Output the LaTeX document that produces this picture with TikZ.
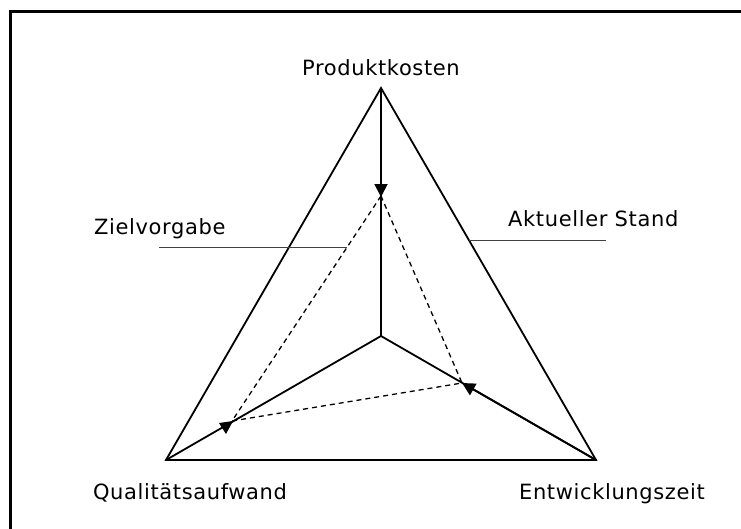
\documentclass[tikz,border=0pt]{standalone}
\usepackage{fontspec}
\setmainfont[LetterSpace=3]{DejaVu Sans}
\usetikzlibrary{arrows.meta,calc}
\begin{document}
\begin{tikzpicture}[x=1pt,y=-1pt,
  frame/.style={line width=3pt},
  axis/.style={line width=1.8pt},
  target/.style={line width=1.3pt,dash pattern=on 5pt off 4pt},
  leader/.style={line width=1pt,black!75},
  tip/.style={-{Triangle[length=13pt,width=13pt]}},
  label/.style={inner sep=0pt,font=\fontsize{21}{25}\selectfont}]
  \useasboundingbox (0,0) rectangle (741,528);
  % outer frame (runs past the page at right and bottom)
  \draw[frame] (10.5,11) rectangle (760,545);
  % corners of the triangle and its centre
  \coordinate (P) at (381,88);
  \coordinate (Q) at (166,460);
  \coordinate (E) at (596,460);
  \coordinate (M) at (381,336);
  % target points on the three axes
  \coordinate (tP) at (381,196);
  \coordinate (tQ) at (232,421);
  \coordinate (tE) at (462,383);
  % current state: triangle and axes
  \draw[axis,line join=miter] (P) -- (Q) -- (E) -- cycle;
  \draw[axis] (M) -- (P);
  \draw[axis] (M) -- (Q);
  \draw[axis] (M) -- (E);
  % arrows towards the targets
  \draw[axis,tip,shorten >=-1pt] (P) -- (tP);
  \fill (tQ) ++(-13,2) -- ++(14,-2) -- ++(-7,13) -- cycle;
  \draw[axis,tip] (E) -- (tE);
  % target triangle
  \draw[target] (tP) -- (tQ) -- (tE) -- cycle;
  % labels
  \node[label,anchor=base] (lp) at (381,75) {Produktkosten};
  \node[label,anchor=base west] (lz) at (94,234) {Zielvorgabe};
  \node[label,anchor=base west] (la) at (508,226) {Aktueller Stand};
  \node[label,anchor=base] (lq) at (190,499) {Qualitätsaufwand};
  \node[label,anchor=base] (le) at (612,499) {Entwicklungszeit};
  % leader lines
  \coordinate (zl) at ($(tP)!0.227!(tQ)$);
  \coordinate (zs) at (159,0);
  \draw[leader] (zs |- zl) -- (zl);
  \coordinate (al) at ($(P)!0.409!(E)$);
  \coordinate (as) at (606,0);
  \draw[leader] (al) -- (as |- al);
\end{tikzpicture}
\end{document}
